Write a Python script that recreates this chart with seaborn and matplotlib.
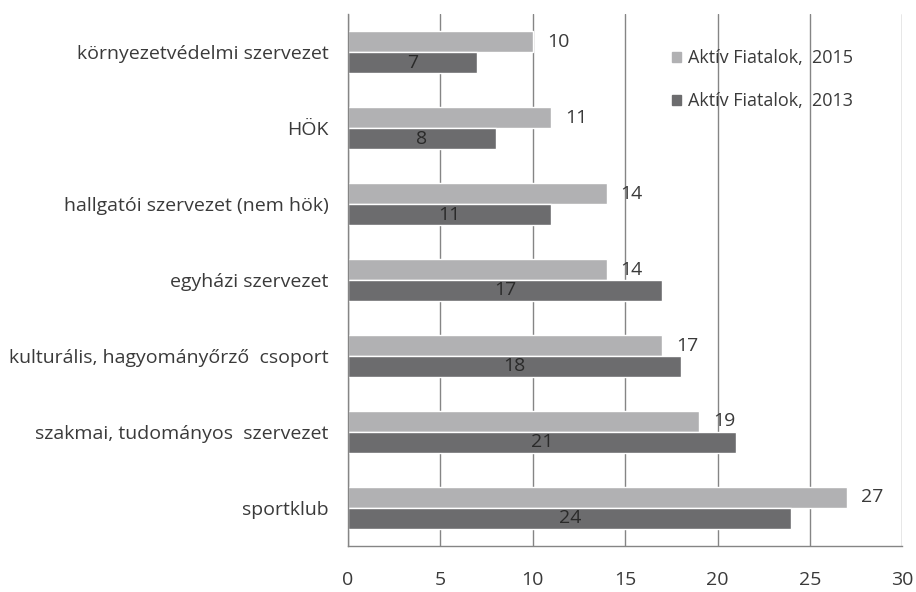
import matplotlib
matplotlib.use("Agg")
import matplotlib.pyplot as plt
import seaborn as sns
import pandas as pd
from matplotlib.ticker import FixedLocator
from matplotlib.patches import Patch

categories = [
    "környezetvédelmi szervezet",
    "HÖK",
    "hallgatói szervezet (nem hök)",
    "egyházi szervezet",
    "kulturális, hagyományőrző  csoport",
    "szakmai, tudományos  szervezet",
    "sportklub",
]
values_2015 = [10, 11, 14, 14, 17, 19, 27]
values_2013 = [7, 8, 11, 17, 18, 21, 24]
series_names = ["Aktív Fiatalok,  2015", "Aktív Fiatalok,  2013"]
x_ticks = [0, 5, 10, 15, 20, 25, 30]

sns.set_style("white")
plt.rcParams["font.family"] = ["Open Sans", "DejaVu Sans"]

df = pd.DataFrame({
    "cat": categories * 2,
    "val": values_2015 + values_2013,
    "series": [series_names[0]] * len(categories) + [series_names[1]] * len(categories),
})

colors = ["#b1b1b3", "#6c6c6e"]
text_col = "#3a3a3a"
grid_col = "#858585"
fs = 14

fig = plt.figure(figsize=(9.16, 5.92), dpi=100)
ax = fig.add_axes([0.380, 0.078, 0.605, 0.898])

sns.barplot(data=df, x="val", y="cat", hue="series", hue_order=series_names,
            order=categories, orient="h", palette=colors, width=0.55,
            edgecolor="white", linewidth=1, legend=False, ax=ax)

ax.set_xlim(0, 30)
ax.set_ylim(len(categories) - 0.5, -0.5)
ax.set_xticks(x_ticks)
ax.xaxis.grid(True, color=grid_col, linewidth=1)
ax.set_axisbelow(True)
ax.set_xlabel("")
ax.set_ylabel("")

for s in ["top", "right"]:
    ax.spines[s].set_visible(False)
for s in ["left", "bottom"]:
    ax.spines[s].set_color(grid_col)
    ax.spines[s].set_linewidth(1)

ax.tick_params(axis="x", length=5, color=grid_col, pad=13, labelsize=fs, labelcolor=text_col)
ax.tick_params(axis="y", which="major", length=0, pad=14, labelsize=fs, labelcolor=text_col)
ax.yaxis.set_minor_locator(FixedLocator([i - 0.5 for i in range(len(categories) + 1)]))
ax.tick_params(axis="y", which="minor", length=5, color=grid_col)

# value labels: 2015 outside bar end, 2013 centered in bar
for bar, v in zip(ax.containers[0], values_2015):
    y = bar.get_y() + bar.get_height() / 2
    ax.annotate(str(v), (bar.get_width(), y), xytext=(10, 0), textcoords="offset points",
                ha="left", va="center", fontsize=fs, color=text_col)
for bar, v in zip(ax.containers[1], values_2013):
    y = bar.get_y() + bar.get_height() / 2
    ax.text(bar.get_width() / 2, y, str(v), ha="center", va="center", fontsize=fs, color="#2a2a2a")

handles = [Patch(color=c) for c in colors]
ax.legend(handles, series_names, loc="upper left", bbox_to_anchor=(0.555, 0.965),
          frameon=False, fontsize=fs - 1, labelspacing=1.4, handlelength=0.5,
          handleheight=0.5, handletextpad=0.4, labelcolor=text_col)

fig.savefig("out.png", dpi=100)
